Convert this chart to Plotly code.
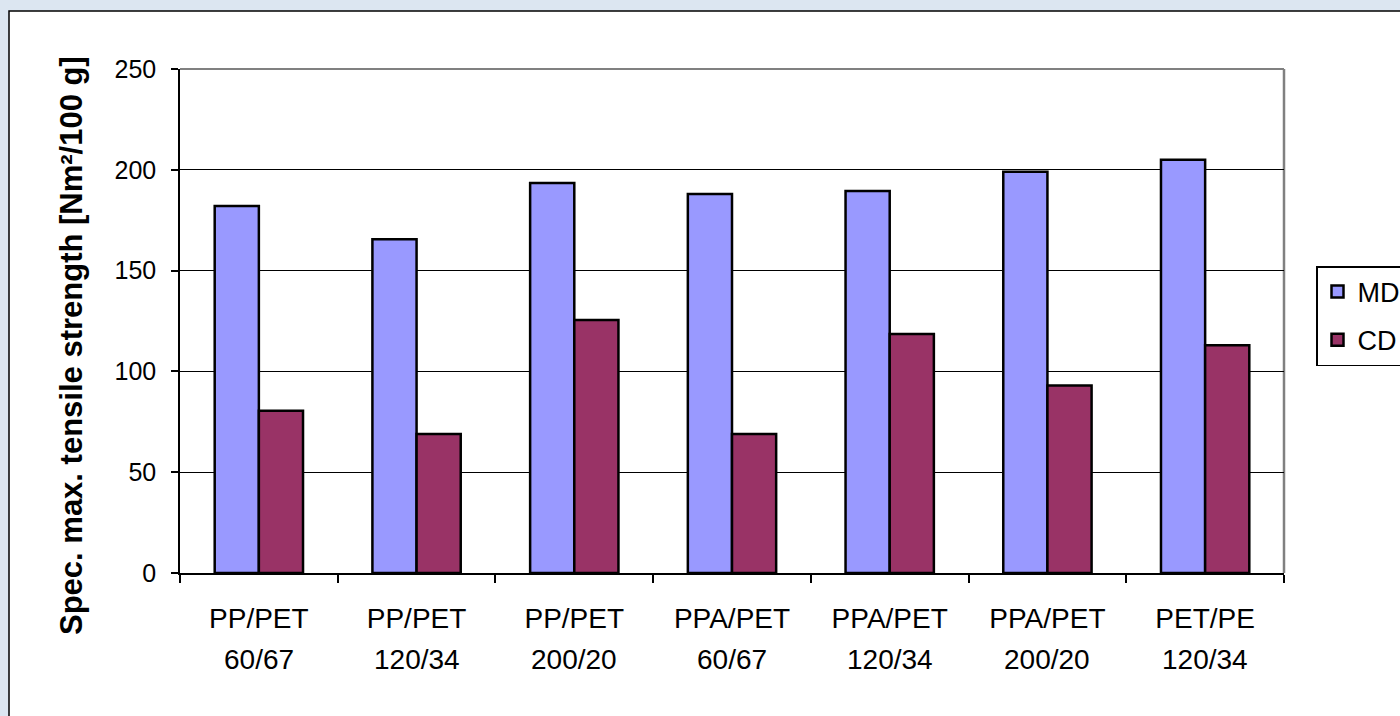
import plotly.graph_objects as go

# Fibre blends and their weight ratios (category labels)
materials = ["PP/PET", "PP/PET", "PP/PET", "PPA/PET", "PPA/PET", "PPA/PET", "PET/PE"]
ratios = ["60/67", "120/34", "200/20", "60/67", "120/34", "200/20", "120/34"]

# Specific maximum tensile strength, machine (MD) and cross (CD) direction
md_values = [182, 165.5, 193.5, 188, 189.5, 199, 205]
cd_values = [80.5, 69, 125.5, 69, 118.5, 93, 113]

y_ticks = [0, 50, 100, 150, 200, 250]

# one category per blend/ratio pair; the ratio is written as a second row below
categories = [f"{m} {r}" for m, r in zip(materials, ratios)]

FONT = "Liberation Sans, Arial, sans-serif"

fig = go.Figure()
fig.add_trace(go.Bar(
    name="MD", x=categories, y=md_values,
    marker=dict(color="#9999FF", line=dict(color="black", width=2.5)),
    legendgroup="md",
))
fig.add_trace(go.Bar(
    name="CD", x=categories, y=cd_values,
    marker=dict(color="#993366", line=dict(color="black", width=2.5)),
    legendgroup="cd",
))

# pixel -> paper helpers for the 1400x716 canvas
L, R, T, B = 180, 116, 69, 143
PW, PH = 1400 - L - R, 716 - T - B


def px_x(px):
    return (px - L) / PW


def px_y(py):
    return (716 - B - py) / PH


shapes = [
    # white chart area on the slide background
    dict(type="rect", xref="paper", yref="paper", layer="below",
         x0=px_x(9), x1=px_x(1420), y0=px_y(740), y1=px_y(11),
         fillcolor="white", line=dict(color="black", width=1.5)),
    # grey plot-area frame (top and right)
    dict(type="line", xref="paper", yref="paper", layer="below",
         x0=0, x1=1, y0=1, y1=1, line=dict(color="#808080", width=2)),
    dict(type="line", xref="paper", yref="paper", layer="below",
         x0=1, x1=1, y0=0, y1=1, line=dict(color="#808080", width=2.5)),
]

annotations = [
    dict(text="Spec. max. tensile strength [Nm²/100 g]",
         xref="paper", yref="paper", x=px_x(71), y=px_y(346),
         xanchor="center", yanchor="middle",
         textangle=-90, showarrow=False,
         font=dict(family=FONT, size=31, color="black", weight="bold")),
]
# second row of the category labels: the weight ratio
for cat, r in zip(categories, ratios):
    annotations.append(dict(
        text=r, xref="x", yref="paper", x=cat, y=px_y(659),
        xanchor="center", yanchor="middle", showarrow=False,
        font=dict(family=FONT, size=28, color="black"),
    ))

fig.update_layout(
    width=1400, height=716,
    margin=dict(l=L, r=R, t=T, b=B, autoexpand=False),
    paper_bgcolor="#dce6f1",
    plot_bgcolor="white",
    barmode="group",
    bargap=0.44,
    bargroupgap=0,
    font=dict(family=FONT, size=26, color="black"),
    shapes=shapes,
    annotations=annotations,
    showlegend=True,
    legend=dict(
        x=px_x(1316), y=px_y(266), xanchor="left", yanchor="top",
        bgcolor="white", bordercolor="black", borderwidth=1.5,
        font=dict(family=FONT, size=27, color="black"),
        traceorder="grouped", tracegroupgap=10,
    ),
)

fig.update_xaxes(
    type="category", tickson="boundaries", ticks="outside", ticklen=8,
    tickcolor="black", tickwidth=1.5,
    showline=True, linecolor="black", linewidth=1.5,
    showgrid=False, tickfont=dict(size=28), ticklabelstandoff=20,
    tickvals=categories, ticktext=materials,
)
fig.update_yaxes(
    range=[0, 250], tickvals=y_ticks, ticks="outside", ticklen=7,
    tickcolor="black", tickwidth=1.5,
    showline=True, linecolor="black", linewidth=1.5,
    showgrid=True, gridcolor="black", gridwidth=1,
    zeroline=False, tickfont=dict(size=25), ticklabelstandoff=10,
)

fig.write_html("out.html")
